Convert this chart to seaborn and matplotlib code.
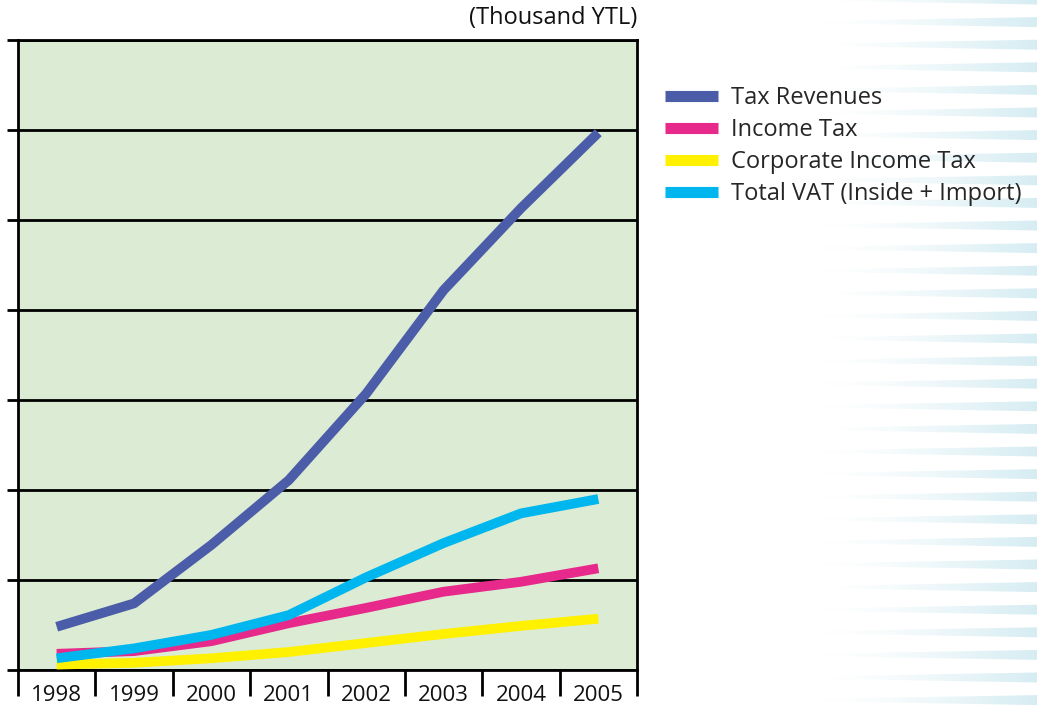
import numpy as np
import pandas as pd
import seaborn as sns
import matplotlib.pyplot as plt
from matplotlib.ticker import FixedLocator, NullFormatter

# values (one grid step = 1 unit)
years = [1998, 1999, 2000, 2001, 2002, 2003, 2004, 2005]
tax_revenues = [0.48, 0.74, 1.39, 2.11, 3.07, 4.22, 5.13, 5.97]
income_tax = [0.18, 0.21, 0.32, 0.52, 0.69, 0.87, 0.98, 1.13]
corporate_tax = [0.06, 0.08, 0.13, 0.20, 0.30, 0.40, 0.49, 0.57]
total_vat = [0.13, 0.24, 0.39, 0.61, 1.03, 1.41, 1.74, 1.90]

series_names = ['Tax Revenues', 'Income Tax', 'Corporate Income Tax', 'Total VAT (Inside + Import)']
series_colors = ['#4B5DA8', '#E6298B', '#FFF100', '#00B6EE']

df = pd.DataFrame({
    'year': years * 4,
    'value': tax_revenues + income_tax + corporate_tax + total_vat,
    'series': [s for s in series_names for _ in years],
})

sns.set_style('white')
plt.rcParams['font.family'] = ['Open Sans', 'DejaVu Sans']

fig = plt.figure(figsize=(10.37, 7.07), dpi=100)

# decorative light stripes at the right edge (fade in towards the edge)
deco = fig.add_axes([820/1037, 0, 217/1037, 1], zorder=0)
H, W = 707, 217
yy, xx = np.mgrid[0:H, 0:W]
fx = xx / W
d = np.abs(((yy + 1) % 22.6) - 11.3)
d = 11.3 - d
half = 1.2 + 3.8 * fx
inten = np.clip(half - d + 0.5, 0, 1) * (fx ** 1.4) * 0.9
base = np.array([0.82, 0.92, 0.945])
img = 1 - inten[..., None] * (1 - base)
deco.imshow(img, aspect='auto', extent=[0, 1, 0, 1], interpolation='bilinear')
deco.axis('off')

ax = fig.add_axes([18/1037, 1 - 670/707, 619/1037, 630/707], zorder=2)
ax.set_facecolor('#DCEBD3')

sns.lineplot(data=df, x='year', y='value', hue='series', hue_order=series_names,
             palette=series_colors, linewidth=7, ax=ax, legend=False,
             solid_capstyle='butt', solid_joinstyle='round', zorder=3)

ax.set_xlim(1997.5, 2005.5)
ax.set_ylim(0, 7)
ax.set_xlabel('')
ax.set_ylabel('')

ax.set_yticks(range(0, 8))
ax.yaxis.set_major_formatter(NullFormatter())
ax.grid(axis='y', color='black', linewidth=2)
ax.grid(axis='x', visible=False)
ax.tick_params(axis='y', left=True, length=8, width=2, color='black', direction='out')

ax.set_xticks(years)
ax.set_xticklabels([str(y) for y in years], fontsize=16, color='#111111')
ax.tick_params(axis='x', which='major', length=0, pad=11)
ax.xaxis.set_minor_locator(FixedLocator([y - 0.5 for y in years] + [2005.5]))
ax.tick_params(axis='x', which='minor', bottom=True, length=19, width=2, color='black', direction='out')

for sp in ax.spines.values():
    sp.set_color('black')
    sp.set_linewidth(2)
    sp.set_visible(True)

fig.text(637/1037, 1 - 18/707, '(Thousand YTL)', ha='right', va='center', fontsize=17, color='#111111')

handles = [plt.Line2D([], [], color=c, linewidth=8, solid_capstyle='butt') for c in series_colors]
fig.legend(handles, series_names, loc='upper left', bbox_to_anchor=(665/1037, 1 - 86/707),
           frameon=False, fontsize=17, handlelength=2.25, handletextpad=0.55,
           labelspacing=0.34, borderpad=0, borderaxespad=0)

fig.savefig('out.png', dpi=100)
